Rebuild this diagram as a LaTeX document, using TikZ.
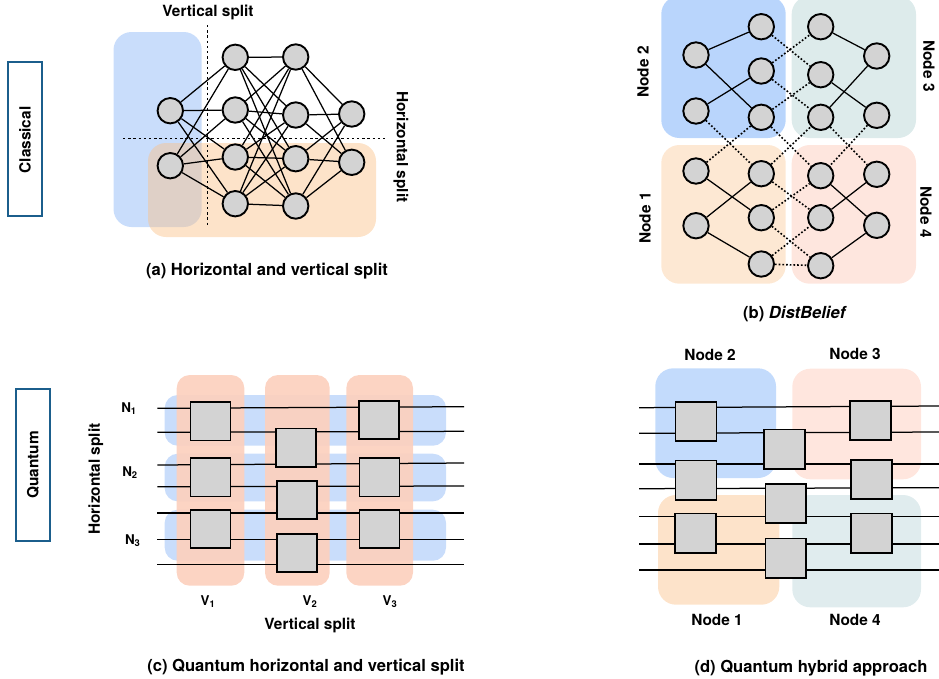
\documentclass[tikz,border=0pt]{standalone}
\usepackage{fontspec}
\setmainfont{TeX Gyre Heros}
\definecolor{blueA}{HTML}{C9DDFB}
\definecolor{orangeA}{HTML}{FAC28A}
\definecolor{blueB}{HTML}{B9D5FC}
\definecolor{tealB}{HTML}{DDEBEB}
\definecolor{orangeB}{HTML}{FDE8D3}
\definecolor{pinkB}{HTML}{FEE6DE}
\definecolor{blueC}{HTML}{C9DDFB}
\definecolor{salmonC}{HTML}{FCD0BE}
\definecolor{blueD}{HTML}{C3DBFC}
\definecolor{orangeD}{HTML}{FDE3CA}
\definecolor{pinkD}{HTML}{FFE6DE}
\definecolor{tealD}{HTML}{E0ECEE}
\definecolor{framecol}{HTML}{1B5E8C}
\definecolor{nodegray}{HTML}{D3D3D3}
\tikzset{
  neuron/.style={circle,draw=black,fill=nodegray,line width=1.9pt,minimum size=25.4pt,inner sep=0pt},
  gateS/.style={rectangle,draw=black,fill=nodegray,line width=1.7pt,minimum width=39.9pt,minimum height=38.3pt,inner sep=0pt},
  gateL/.style={rectangle,draw=black,fill=nodegray,line width=1.7pt,minimum width=40.9pt,minimum height=39.3pt,inner sep=0pt},
  edgeline/.style={line width=1.25pt,black},
  remote/.style={line width=1.6pt,black,dash pattern=on 1.7pt off 2pt},
  splitline/.style={line width=1.2pt,black,dash pattern=on 2.4pt off 2.8pt},
  wire/.style={line width=1.25pt,black},
  lab/.style={font=\fontsize{15.4}{17}\selectfont\bfseries,inner sep=0pt},
  captext/.style={font=\fontsize{16.6}{19}\selectfont\bfseries,inner sep=0pt},
  smalltext/.style={font=\fontsize{13.4}{15}\selectfont\bfseries,inner sep=0pt},
  framebox/.style={rectangle,draw=framecol,line width=1.2pt,fill=white,inner sep=0pt},
  region/.style={rounded corners=18pt},
  regionS/.style={rounded corners=13pt}
}
\begin{document}
\begin{tikzpicture}[x=1pt,y=-1pt]
\useasboundingbox (0,0) rectangle (939,678);
% frames
\node[framebox,minimum width=34pt,minimum height=154pt] (classical) at (25,139) {};
\node[lab,rotate=90] (classicaltxt) at (25,140) {Classical};
\node[framebox,minimum width=34pt,minimum height=152pt] (quantum) at (33,465) {};
\node[lab,rotate=90] (quantumtxt) at (33,465) {Quantum};
% ---------- panel a
\fill[blueA,region] (113.5,32) rectangle (201.7,227);
\fill[orangeA,fill opacity=.46,region] (148,143) rectangle (376,237);
\node[neuron] (i1) at (170.3,110.7) {};
\node[neuron] (i2) at (170.3,165.7) {};
\node[neuron] (ha) at (235.3,57.3) {};
\node[neuron] (hb) at (235.3,110) {};
\node[neuron] (hc) at (235.3,157) {};
\node[neuron] (hd) at (235.3,203.7) {};
\node[neuron] (kA) at (295.7,57) {};
\node[neuron] (kB) at (295.7,115) {};
\node[neuron] (kC) at (295.7,158.7) {};
\node[neuron] (kD) at (295.7,206) {};
\node[neuron] (o1) at (351.7,114) {};
\node[neuron] (o2) at (351.7,162.3) {};
\foreach \s in {i1,i2}\foreach \t in {ha,hb,hc,hd}\draw[edgeline] (\s)--(\t);
\foreach \s in {ha,hb,hc,hd}\foreach \t in {kA,kB,kC,kD}\draw[edgeline] (\s)--(\t);
\foreach \s in {kA,kB,kC,kD}\foreach \t in {o1,o2}\draw[edgeline] (\s)--(\t);
\coordinate (vt) at (207.7,25); \coordinate (vb) at (207.7,225);
\coordinate (hl) at (123,138.7); \coordinate (hr) at (386,138.7);
\draw[splitline] (vt)--(vb);
\draw[splitline] (hl)--(hr);
\node[lab] (avs) at (208,12) {Vertical split};
\node[lab,rotate=-90] (ahs) at (401,147) {Horizontal split};
\node[captext] (capa) at (267,271) {(a) Horizontal and vertical split};
% ---------- panel b
\fill[blueB,region] (661.3,-4) rectangle (785.7,138);
\fill[tealB,region] (791.7,-4) rectangle (916,138);
\fill[orangeB,region] (661.3,145) rectangle (785.7,283.7);
\fill[pinkB,region] (791.7,145) rectangle (916,283.7);
\node[neuron] (p1) at (696,55) {};
\node[neuron] (p2) at (696,111) {};
\node[neuron] (p3) at (696,171) {};
\node[neuron] (p4) at (696,225.7) {};
\node[neuron] (q1) at (761.3,26.7) {};
\node[neuron] (q2) at (761.3,71) {};
\node[neuron] (q3) at (761.3,117.3) {};
\node[neuron] (q4) at (761.3,173.7) {};
\node[neuron] (q5) at (761.3,217.7) {};
\node[neuron] (q6) at (761.3,264) {};
\node[neuron] (r1) at (820.7,26.7) {};
\node[neuron] (r2) at (820.7,74.7) {};
\node[neuron] (r3) at (820.7,117.3) {};
\node[neuron] (r4) at (820.7,175.7) {};
\node[neuron] (r5) at (820.7,217.7) {};
\node[neuron] (r6) at (820.7,265.7) {};
\node[neuron] (s1) at (876.7,56) {};
\node[neuron] (s2) at (876.7,115.3) {};
\node[neuron] (s3) at (876.7,174.3) {};
\node[neuron] (s4) at (876.7,225.3) {};
\foreach \s/\t in {p1/q1,p1/q3,p2/q2,p3/q5,p4/q4,p4/q6,r1/s1,r2/s2,r3/s1,r4/s4,r5/s3,r6/s4}\draw[edgeline] (\s)--(\t);
\foreach \s/\t in {q1/r2,q2/r1,q2/r3,q3/r2,p2/q4,p3/q3,q3/r4,q4/r3,r3/s3,s2/r4,q4/r5,q5/r4,q5/r6,q6/r5,q6/r6}\draw[remote] (\s)--(\t);
\node[lab,rotate=90] (bn2) at (643,72) {Node 2};
\node[lab,rotate=90] (bn1) at (645,218) {Node 1};
\node[lab,rotate=-90] (bn3) at (929,66) {Node 3};
\node[lab,rotate=-90] (bn4) at (926,212) {Node 4};
\node[captext] (capb) at (795,314) {(b) \textit{DistBelief}};
% ---------- panel c
\fill[blueC,regionS] (164.7,395) rectangle (446,445.7);
\fill[blueC,regionS] (164.7,453.7) rectangle (446,501.3);
\fill[blueC,regionS] (164.7,509.7) rectangle (446,560.7);
\fill[salmonC,fill opacity=.92,regionS] (176.7,375) rectangle (244.3,585.7);
\fill[salmonC,fill opacity=.92,regionS] (265,375) rectangle (329.7,585.7);
\fill[salmonC,fill opacity=.92,regionS] (346.3,375) rectangle (413,585.7);
\foreach \n/\a/\b in {1/408.3/406.7,2/432.3/431.3,3/465/463,4/486.7/486,5/513/513,6/539.3/539.3,7/564.7/564.7}{
  \coordinate (cl\n) at (157.3,\a);
  \coordinate (cr\n) at (464,\b);
  \draw[wire] (cl\n)--(cr\n);
}
\node[gateS] (c11) at (210.5,421.3) {};
\node[gateS] (c12) at (210.5,477.2) {};
\node[gateS] (c13) at (210.5,528.9) {};
\node[gateS] (c21) at (296.2,447.5) {};
\node[gateS] (c22) at (297.2,500) {};
\node[gateS] (c23) at (297.2,552.9) {};
\node[gateS] (c31) at (379.2,420) {};
\node[gateS] (c32) at (379.5,477.2) {};
\node[gateS] (c33) at (379.5,528.9) {};
\node[smalltext] (n1) at (129,409) {N\textsubscript{1}};
\node[smalltext] (n2) at (130,472.7) {N\textsubscript{2}};
\node[smalltext] (n3) at (132.7,540.7) {N\textsubscript{3}};
\node[smalltext] (v1) at (208,602) {V\textsubscript{1}};
\node[smalltext] (v2) at (310,602) {V\textsubscript{2}};
\node[smalltext] (v3) at (390,602) {V\textsubscript{3}};
\node[lab] (cvs) at (310,625) {Vertical split};
\node[lab,rotate=90] (chs) at (95.7,479) {Horizontal split};
\node[captext] (capc) at (306,667) {(c) Quantum horizontal and vertical split};
% ---------- panel d
\fill[blueD,region] (655.3,368.3) rectangle (776,478);
\fill[pinkD,region] (792.3,368.7) rectangle (921,479.3);
\fill[orangeD,region] (658,495) rectangle (779.3,604.7);
\fill[tealD,region] (792.3,495) rectangle (921,607.3);
\foreach \n/\a/\b in {1/407.7/406,2/433.3/432,3/464/464,4/488.7/487.7,5/516.7/516.7,6/544/544,7/570/570}{
  \coordinate (dl\n) at (639,\a);
  \coordinate (dr\n) at (939,\b);
  \draw[wire] (dl\n)--(dr\n);
}
\node[gateL] (d11) at (696,421.5) {};
\node[gateL] (d12) at (696,480) {};
\node[gateL] (d13) at (695.5,533.2) {};
\node[gateL] (d21) at (784.7,449.2) {};
\node[gateL] (d22) at (785.8,503.5) {};
\node[gateL] (d23) at (785.8,558) {};
\node[gateL] (d31) at (870.5,420.5) {};
\node[gateL] (d32) at (871.2,479.5) {};
\node[gateL] (d33) at (871.2,533.2) {};
\node[lab] (dn2) at (710,355) {Node 2};
\node[lab] (dn3) at (855,354) {Node 3};
\node[lab] (dn1) at (717,620) {Node 1};
\node[lab] (dn4) at (855,620) {Node 4};
\node[captext] (capd) at (811,668) {(d) Quantum hybrid approach};
\end{tikzpicture}
\end{document}
